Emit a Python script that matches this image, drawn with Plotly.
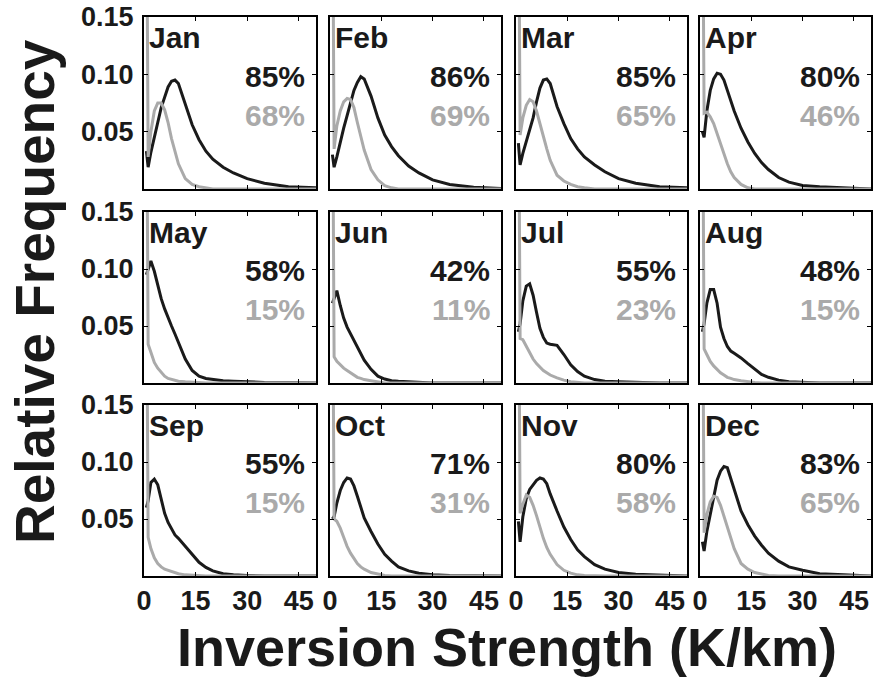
import plotly.graph_objects as go

# monthly relative-frequency curves, black = dark line, grey = light line
months = ["Jan", "Feb", "Mar", "Apr", "May", "Jun",
          "Jul", "Aug", "Sep", "Oct", "Nov", "Dec"]
dark_pct = [85, 86, 85, 80, 58, 42, 55, 48, 55, 71, 80, 83]
light_pct = [68, 69, 65, 46, 15, 11, 23, 15, 15, 31, 58, 65]

strength = [0.7, 1.2, 2, 3, 4, 5, 6, 7, 8, 9, 10, 12, 14, 16, 18, 20, 23, 26, 30, 35, 42, 50]

jan_dark = [0.033, 0.019, 0.032, 0.044, 0.058, 0.071, 0.080, 0.089, 0.094, 0.095, 0.092, 0.074, 0.056, 0.043, 0.033, 0.026, 0.019, 0.014, 0.009, 0.005, 0.002, 0.001]
jan_light = [0.30, 0.028, 0.050, 0.068, 0.075, 0.075, 0.069, 0.058, 0.044, 0.032, 0.022, 0.009, 0.004, 0.002, 0.001, 0, 0, 0, 0, 0, 0, 0]
feb_dark = [0.030, 0.019, 0.028, 0.042, 0.053, 0.064, 0.076, 0.086, 0.093, 0.098, 0.096, 0.081, 0.062, 0.047, 0.037, 0.029, 0.020, 0.014, 0.008, 0.004, 0.0015, 0.0005]
feb_light = [0.30, 0.035, 0.055, 0.068, 0.076, 0.079, 0.078, 0.071, 0.058, 0.045, 0.034, 0.017, 0.008, 0.003, 0.001, 0, 0, 0, 0, 0, 0, 0]
mar_dark = [0.040, 0.021, 0.031, 0.041, 0.052, 0.062, 0.076, 0.088, 0.095, 0.096, 0.092, 0.072, 0.057, 0.044, 0.035, 0.028, 0.021, 0.015, 0.009, 0.005, 0.002, 0.001]
mar_light = [0.30, 0.047, 0.062, 0.073, 0.078, 0.076, 0.068, 0.058, 0.046, 0.035, 0.025, 0.012, 0.007, 0.004, 0.002, 0.001, 0, 0, 0, 0, 0, 0]
apr_dark = [0.050, 0.045, 0.068, 0.086, 0.096, 0.101, 0.100, 0.095, 0.086, 0.077, 0.068, 0.053, 0.041, 0.031, 0.023, 0.017, 0.010, 0.006, 0.003, 0.002, 0.001, 0]
apr_light = [0.30, 0.066, 0.067, 0.063, 0.057, 0.048, 0.039, 0.030, 0.022, 0.015, 0.010, 0.004, 0.001, 0, 0, 0, 0, 0, 0, 0, 0, 0]
may_dark = [0.095, 0.100, 0.107, 0.098, 0.085, 0.074, 0.065, 0.057, 0.050, 0.043, 0.036, 0.021, 0.011, 0.006, 0.004, 0.003, 0.002, 0.0015, 0.001, 0.0005, 0.0003, 0]
may_light = [0.30, 0.034, 0.027, 0.018, 0.013, 0.009, 0.006, 0.004, 0.003, 0.002, 0.0015, 0.001, 0.0005, 0, 0, 0, 0, 0, 0, 0, 0, 0]
jun_dark = [0.070, 0.075, 0.081, 0.068, 0.057, 0.049, 0.043, 0.037, 0.031, 0.025, 0.020, 0.012, 0.006, 0.0035, 0.002, 0.0015, 0.001, 0.0005, 0, 0, 0, 0]
jun_light = [0.30, 0.023, 0.019, 0.016, 0.013, 0.011, 0.009, 0.007, 0.005, 0.004, 0.003, 0.002, 0.001, 0, 0, 0, 0, 0, 0, 0, 0, 0]
jul_dark = [0.045, 0.052, 0.072, 0.085, 0.087, 0.077, 0.062, 0.048, 0.040, 0.035, 0.034, 0.033, 0.025, 0.016, 0.010, 0.006, 0.003, 0.0015, 0.001, 0.0005, 0, 0]
jul_light = [0.30, 0.039, 0.038, 0.032, 0.026, 0.021, 0.017, 0.014, 0.011, 0.009, 0.007, 0.0045, 0.0025, 0.0012, 0.0005, 0, 0, 0, 0, 0, 0, 0]
aug_dark = [0.045, 0.052, 0.070, 0.082, 0.082, 0.070, 0.049, 0.039, 0.032, 0.028, 0.026, 0.022, 0.017, 0.012, 0.0075, 0.005, 0.0025, 0.0012, 0.0005, 0, 0, 0]
aug_light = [0.30, 0.030, 0.025, 0.019, 0.015, 0.012, 0.009, 0.007, 0.005, 0.004, 0.003, 0.002, 0.001, 0.0005, 0, 0, 0, 0, 0, 0, 0, 0]
sep_dark = [0.060, 0.066, 0.082, 0.085, 0.080, 0.068, 0.055, 0.047, 0.041, 0.036, 0.033, 0.026, 0.019, 0.012, 0.0075, 0.0045, 0.002, 0.001, 0.0005, 0, 0, 0]
sep_light = [0.30, 0.034, 0.024, 0.016, 0.011, 0.008, 0.006, 0.005, 0.004, 0.003, 0.002, 0.001, 0.0005, 0, 0, 0, 0, 0, 0, 0, 0, 0]
oct_dark = [0.050, 0.052, 0.064, 0.075, 0.082, 0.086, 0.085, 0.079, 0.070, 0.060, 0.051, 0.039, 0.028, 0.019, 0.013, 0.008, 0.0045, 0.0025, 0.0012, 0.0005, 0.0002, 0]
oct_light = [0.30, 0.050, 0.048, 0.042, 0.034, 0.026, 0.020, 0.015, 0.011, 0.008, 0.006, 0.003, 0.0015, 0.0005, 0, 0, 0, 0, 0, 0, 0, 0]
nov_dark = [0.048, 0.030, 0.052, 0.068, 0.076, 0.080, 0.084, 0.086, 0.085, 0.081, 0.072, 0.057, 0.043, 0.032, 0.023, 0.017, 0.010, 0.006, 0.003, 0.0015, 0.0005, 0]
nov_light = [0.30, 0.055, 0.063, 0.071, 0.069, 0.062, 0.053, 0.042, 0.033, 0.025, 0.019, 0.010, 0.005, 0.0025, 0.001, 0.0005, 0, 0, 0, 0, 0, 0]
dec_dark = [0.030, 0.022, 0.039, 0.053, 0.068, 0.084, 0.092, 0.096, 0.095, 0.085, 0.075, 0.057, 0.045, 0.035, 0.027, 0.020, 0.013, 0.008, 0.005, 0.002, 0.001, 0]
dec_light = [0.30, 0.038, 0.054, 0.065, 0.070, 0.069, 0.062, 0.052, 0.042, 0.032, 0.024, 0.011, 0.006, 0.003, 0.0015, 0.0005, 0, 0, 0, 0, 0, 0]

dark_curves = [jan_dark, feb_dark, mar_dark, apr_dark, may_dark, jun_dark,
               jul_dark, aug_dark, sep_dark, oct_dark, nov_dark, dec_dark]
light_curves = [jan_light, feb_light, mar_light, apr_light, may_light, jun_light,
                jul_light, aug_light, sep_light, oct_light, nov_light, dec_light]

x_ticks = [0, 15, 30, 45]
y_ticks = [0.05, 0.10, 0.15]
y_tick_labels = ["0.05", "0.10", "0.15"]

W, H = 873, 677
FONT = "Liberation Sans, Arial, Helvetica, sans-serif"
DARK = "#1a1a1a"
LIGHT = "#aaaaaa"

# panel edges in pixels
col_px = [(144, 316), (330, 501), (516, 687), (700, 871)]
row_px = [(17, 189), (212, 383), (405, 576)]

fig = go.Figure()
layout_axes = {}
annotations = []

for i, month in enumerate(months):
    r, c = divmod(i, 4)
    n = i + 1
    xname = "x" if n == 1 else f"x{n}"
    yname = "y" if n == 1 else f"y{n}"

    fig.add_trace(go.Scatter(
        x=strength, y=dark_curves[i], mode="lines",
        line=dict(color=DARK, width=3),
        xaxis=xname, yaxis=yname, showlegend=False, hoverinfo="skip",
    ))
    fig.add_trace(go.Scatter(
        x=strength, y=light_curves[i], mode="lines",
        line=dict(color=LIGHT, width=3),
        xaxis=xname, yaxis=yname, showlegend=False, hoverinfo="skip",
    ))

    x0, x1 = col_px[c]
    y0, y1 = row_px[r]
    common = dict(
        showline=True, mirror="ticks", linecolor="black", linewidth=2,
        ticks="inside", ticklen=4, tickwidth=1.2, tickcolor="black",
        showgrid=False, zeroline=False, fixedrange=True, automargin=False,
        tickfont=dict(family=FONT, size=27, color=DARK, weight="bold"),
    )
    layout_axes["xaxis" if n == 1 else f"xaxis{n}"] = dict(
        domain=[x0 / W, x1 / W], anchor=yname, range=[0, 50],
        tickvals=x_ticks, showticklabels=(r == 2), ticklabelstandoff=0,
        **common,
    )
    layout_axes["yaxis" if n == 1 else f"yaxis{n}"] = dict(
        domain=[1 - y1 / H, 1 - y0 / H], anchor=xname, range=[0, 0.15],
        tickvals=y_ticks, ticktext=y_tick_labels, showticklabels=(c == 0),
        ticklabelstandoff=3, **common,
    )

    xref = f"{xname} domain"
    yref = f"{yname} domain"
    annotations.append(dict(
        text=month, xref=xref, yref=yref, x=0.02, y=0.88,
        xanchor="left", yanchor="middle", showarrow=False,
        font=dict(family=FONT, size=30, color=DARK, weight="bold"),
    ))
    annotations.append(dict(
        text=f"{dark_pct[i]}%", xref=xref, yref=yref, x=0.95, y=0.655,
        xanchor="right", yanchor="middle", showarrow=False,
        font=dict(family=FONT, size=30, color=DARK, weight="bold"),
    ))
    annotations.append(dict(
        text=f"{light_pct[i]}%", xref=xref, yref=yref, x=0.95, y=0.43,
        xanchor="right", yanchor="middle", showarrow=False,
        font=dict(family=FONT, size=30, color=LIGHT, weight="bold"),
    ))

annotations.append(dict(
    text="Relative Frequency", xref="paper", yref="paper",
    x=35 / W, y=1 - 292 / H, textangle=-90, showarrow=False,
    xanchor="center", yanchor="middle",
    font=dict(family=FONT, size=55, color=DARK, weight="bold"),
))
annotations.append(dict(
    text="Inversion Strength (K/km)", xref="paper", yref="paper",
    x=507 / W, y=1 - 647 / H, showarrow=False,
    xanchor="center", yanchor="middle",
    font=dict(family=FONT, size=54, color=DARK, weight="bold"),
))

fig.update_layout(
    width=W, height=H,
    margin=dict(l=0, r=0, t=0, b=0, autoexpand=False),
    paper_bgcolor="white", plot_bgcolor="white",
    annotations=annotations,
    **layout_axes,
)

fig.write_html(
    "out.html",
    config={"displayModeBar": False},
    post_script="document.body.style.margin='0';document.body.style.overflow='hidden';",
)
